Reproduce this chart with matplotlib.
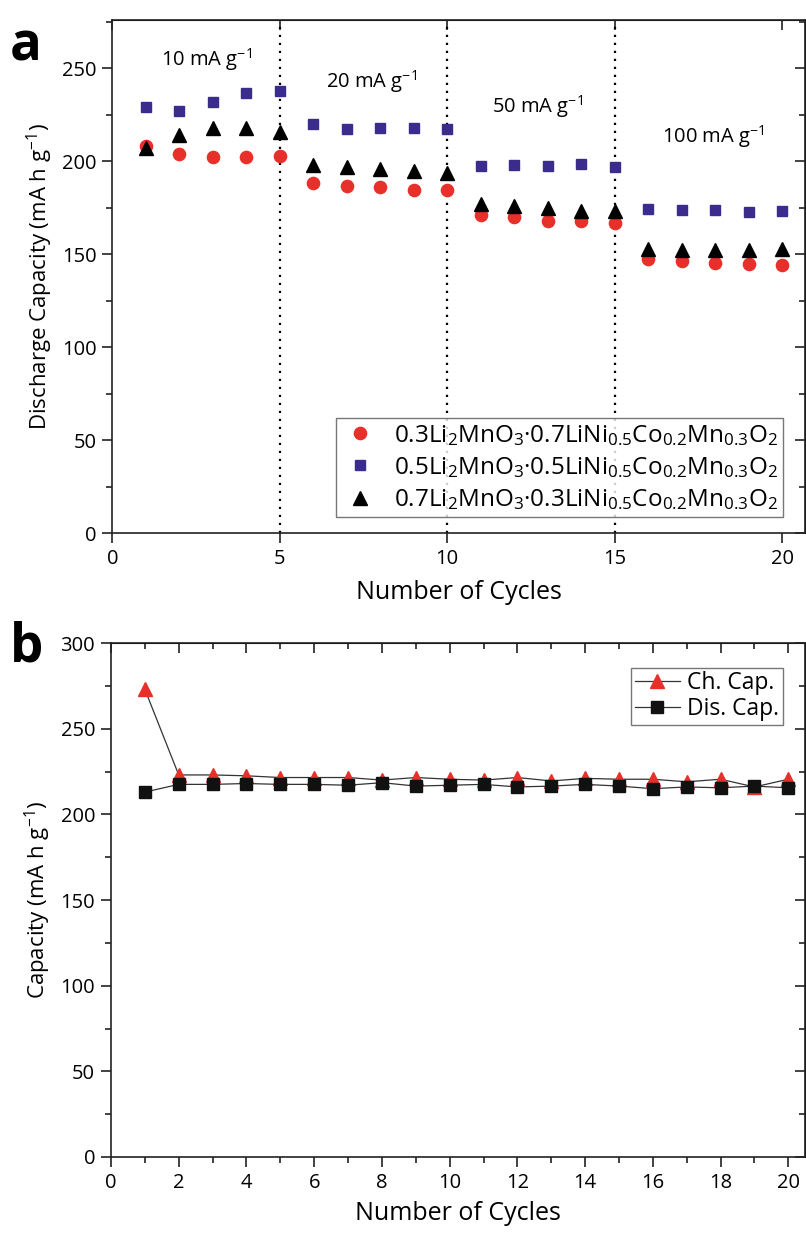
import matplotlib
matplotlib.use("Agg")
import matplotlib.pyplot as plt
from matplotlib.ticker import MultipleLocator

plt.rcParams['font.family'] = ['Open Sans', 'DejaVu Sans']
plt.rcParams['mathtext.fontset'] = 'custom'
plt.rcParams['mathtext.rm'] = 'Open Sans'
plt.rcParams['mathtext.it'] = 'Open Sans'
plt.rcParams['mathtext.bf'] = 'Open Sans:bold'

# ---------------- data ----------------
cycles = list(range(1, 21))

cap_03 = [208, 204, 202.5, 202.5, 203, 188.5, 187, 186, 184.5, 184.5,
          171, 170, 168, 168, 167, 147.5, 146.5, 145.5, 145, 144.5]
cap_05 = [229.5, 227, 232, 237, 238, 220, 217.5, 218, 218, 217.5,
          197.5, 198, 197.5, 198.5, 197, 174.5, 174, 174, 173, 173.5]
cap_07 = [207, 214, 218, 218, 216, 198, 197, 196, 195, 194,
          177, 176, 175, 173.5, 173.5, 153, 152.5, 152.5, 152.5, 153]

rate_labels = ['10 mA g$^{-1}$', '20 mA g$^{-1}$', '50 mA g$^{-1}$', '100 mA g$^{-1}$']
rate_label_x = [2.8, 7.75, 12.7, 17.95]
rate_label_y = [255, 243, 229.5, 213.5]
rate_boundaries = [5, 10, 15]

legend_a = ['0.3Li$_2$MnO$_3$·0.7LiNi$_{0.5}$Co$_{0.2}$Mn$_{0.3}$O$_2$',
            '0.5Li$_2$MnO$_3$·0.5LiNi$_{0.5}$Co$_{0.2}$Mn$_{0.3}$O$_2$',
            '0.7Li$_2$MnO$_3$·0.3LiNi$_{0.5}$Co$_{0.2}$Mn$_{0.3}$O$_2$']

ch_cap = [273, 223, 223, 222.5, 221.5, 221.5, 221.5, 220, 221.5, 220.5,
          220, 221.5, 219.5, 221, 220.5, 220.5, 219, 220.5, 216, 220.5]
dis_cap = [213, 217.5, 217.5, 218, 217.5, 217.5, 217, 218.5, 216.5, 217,
           217.5, 216, 216.5, 217.5, 216.5, 215, 216, 215.5, 216.5, 215.5]

RED = '#e8302b'
BLUE = '#3a2c8c'
INK = '#222222'

fig = plt.figure(figsize=(8.06, 12.34), dpi=100)

# ---------------- panel a ----------------
axa = fig.add_axes([0.1395, 0.568, 0.859, 0.4157])
axa.plot(cycles, cap_03, 'o', color=RED, ms=8.8, mec=RED, label=legend_a[0], zorder=3)
axa.plot(cycles, cap_05, 's', color=BLUE, ms=7.6, mec=BLUE, label=legend_a[1], zorder=3)
axa.plot(cycles, cap_07, '^', color='black', ms=9.5, mec='black', label=legend_a[2], zorder=3)
for xb in rate_boundaries:
    axa.axvline(xb, color='black', lw=1.6, ls=(0, (1, 2.6)), zorder=1)
for t, x, y in zip(rate_labels, rate_label_x, rate_label_y):
    axa.text(x, y, t, ha='center', va='center', fontsize=14.5)
axa.set_xlim(0, 20.68)
axa.set_ylim(0, 276)
axa.xaxis.set_major_locator(MultipleLocator(5))
axa.yaxis.set_major_locator(MultipleLocator(50))
axa.yaxis.set_minor_locator(MultipleLocator(25))
axa.set_xlabel('Number of Cycles', fontsize=18, labelpad=8)
axa.set_ylabel('Discharge Capacity (mA h g$^{-1}$)', fontsize=16, labelpad=5)
leg = axa.legend(loc='lower right', bbox_to_anchor=(0.9685, 0.0315), fontsize=17.5,
                 frameon=True, fancybox=False, edgecolor='#555555', handletextpad=0.6,
                 borderpad=0.2, labelspacing=0.3, handlelength=1.6, borderaxespad=0)
leg.get_frame().set_linewidth(1.0)

# ---------------- panel b ----------------
axb = fig.add_axes([0.1377, 0.0624, 0.8605, 0.4165])
axb.plot(cycles, ch_cap, '-^', color='#333333', lw=0.9, mfc=RED, mec=RED, ms=9.5,
         label='Ch. Cap.', zorder=3)
axb.plot(cycles, dis_cap, '-s', color='#333333', lw=0.9, mfc='#111111', mec='#111111', ms=8,
         label='Dis. Cap.', zorder=4)
axb.set_xlim(0, 20.48)
axb.set_ylim(0, 300)
axb.xaxis.set_major_locator(MultipleLocator(2))
axb.xaxis.set_minor_locator(MultipleLocator(1))
axb.yaxis.set_major_locator(MultipleLocator(50))
axb.yaxis.set_minor_locator(MultipleLocator(25))
axb.set_xlabel('Number of Cycles', fontsize=18, labelpad=6)
axb.set_ylabel('Capacity (mA h g$^{-1}$)', fontsize=16, labelpad=5)
legb = axb.legend(loc='upper right', bbox_to_anchor=(0.9685, 0.952), fontsize=16.5,
                  frameon=True, fancybox=False, edgecolor='#555555', handletextpad=0.3,
                  borderpad=0.15, labelspacing=0.1, handlelength=2.0, borderaxespad=0,
                  numpoints=1)
legb.get_frame().set_linewidth(1.0)

for ax, xminor in ((axa, None), (axb, 1)):
    for s in ax.spines.values():
        s.set_linewidth(1.2)
        s.set_color(INK)
    ax.tick_params(axis='both', which='both', labelsize=14.5, width=1.2, color=INK)
    ax.tick_params(axis='x', which='major', length=7.5, direction='out', pad=4)
    ax.tick_params(axis='y', which='major', length=7.5, direction='out', pad=4)
    ax.tick_params(axis='both', which='minor', length=4.5, direction='out')
    # mirrored inward ticks on top and right
    sx = ax.secondary_xaxis('top')
    sx.set_xticks(ax.get_xticks(), labels=[])
    sx.tick_params(direction='in', length=7.5, width=1.2, color=INK)
    if xminor:
        sx.xaxis.set_minor_locator(MultipleLocator(xminor))
        sx.tick_params(which='minor', direction='in', length=4.5, width=1.2, color=INK)
    sy = ax.secondary_yaxis('right')
    sy.set_yticks(ax.get_yticks(), labels=[])
    sy.tick_params(direction='in', length=7.5, width=1.2, color=INK)
    sy.yaxis.set_minor_locator(MultipleLocator(25))
    sy.tick_params(which='minor', direction='in', length=4.5, width=1.2, color=INK)

fig.text(0.012, 0.984, 'a', fontsize=38, fontweight='bold', va='top', ha='left')
fig.text(0.012, 0.497, 'b', fontsize=38, fontweight='bold', va='top', ha='left')

fig.savefig('out.png', dpi=100, facecolor='white')
